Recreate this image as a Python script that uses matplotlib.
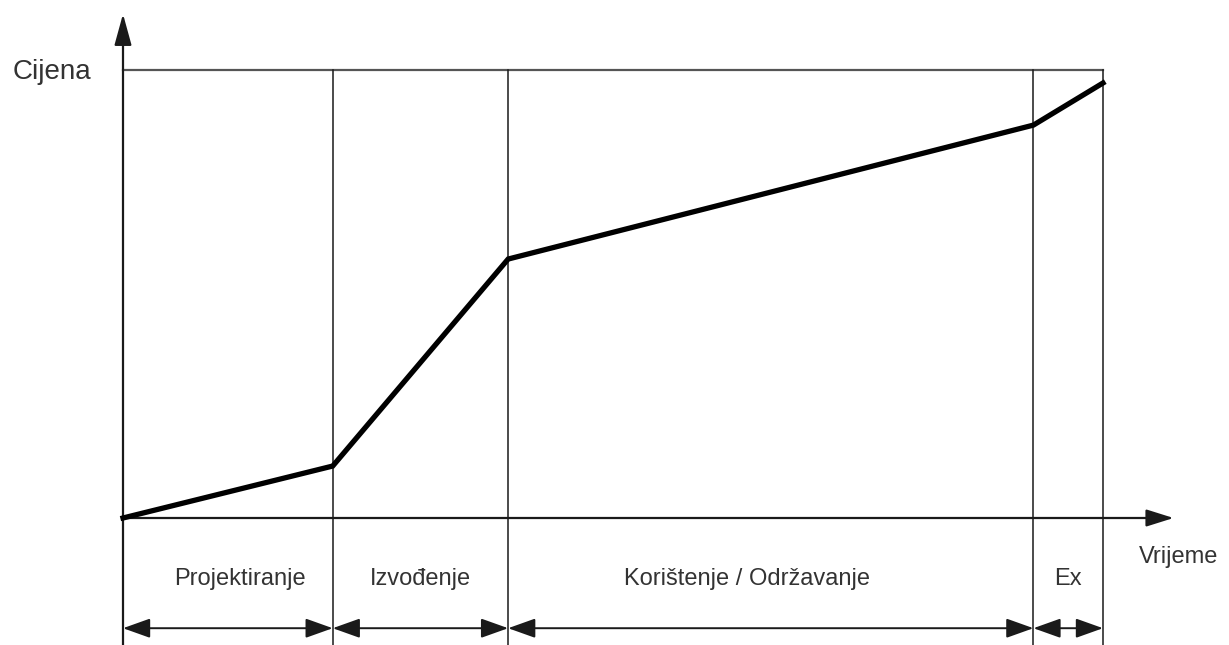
import matplotlib.pyplot as plt

plt.rcParams['font.family'] = ['Liberation Sans', 'DejaVu Sans']

# phase boundaries on the time axis (0..100) and the cost curve (0..100)
phase_edges = [0, 21.4, 39.3, 92.9, 100]
phase_names = ['Projektiranje', 'Izvođenje', 'Korištenje / Održavanje', 'Ex']
label_x = [11.9, 30.4, 63.7, 96.4]
cost_t = [0, 21.4, 39.3, 92.9, 100]
cost_v = [0, 11.6, 57.8, 87.7, 97.1]

fig = plt.figure(figsize=(12.29, 6.45), dpi=100)
ax = fig.add_axes([123 / 1229, 127 / 645, 980 / 1229, 448 / 645])
ax.set_xlim(0, 100)
ax.set_ylim(0, 100)
ax.axis('off')

dark = '#1a1a1a'
text_col = '#333333'
bottom = -28.5

# top border line
ax.plot([0, 100], [100, 100], color='#555555', lw=1.6, clip_on=False)

# vertical phase separators
for xe in phase_edges[1:]:
    ax.plot([xe, xe], [100, bottom], color=dark, lw=1.1, clip_on=False)
ax.plot([0, 0], [0, bottom], color=dark, lw=1.6, clip_on=False)

# axes with arrows
ax.annotate('', xy=(0, 112.5), xytext=(0, 0),
            arrowprops=dict(arrowstyle='-|>,head_length=0.8,head_width=0.22',
                            color=dark, lw=1.6,
                            mutation_scale=24, shrinkA=0, shrinkB=0),
            annotation_clip=False)
ax.annotate('', xy=(107.2, 0), xytext=(0, 0),
            arrowprops=dict(arrowstyle='-|>,head_length=0.7,head_width=0.22',
                            color=dark, lw=1.6,
                            mutation_scale=24, shrinkA=0, shrinkB=0),
            annotation_clip=False)

# cost curve
ax.plot(cost_t, cost_v, color='black', lw=3.8, solid_joinstyle='miter',
        clip_on=False, zorder=5)

# phase duration arrows and labels
for i, name in enumerate(phase_names):
    x0, x1 = phase_edges[i], phase_edges[i + 1]
    ax.annotate('', xy=(x1, -24.6), xytext=(x0, -24.6),
                arrowprops=dict(arrowstyle='<|-|>,head_length=0.7,head_width=0.25',
                                color=dark, lw=1.4,
                                mutation_scale=24, shrinkA=0, shrinkB=0),
                annotation_clip=False)
    ax.text(label_x[i], -13.6, name, ha='center', va='center',
            fontsize=17, color=text_col)

ax.text(-7.3, 99.5, 'Cijena', ha='center', va='center', fontsize=20, color=text_col)
ax.text(107.7, -8.7, 'Vrijeme', ha='center', va='center', fontsize=17, color=text_col)

fig.savefig('out.png', dpi=100)
